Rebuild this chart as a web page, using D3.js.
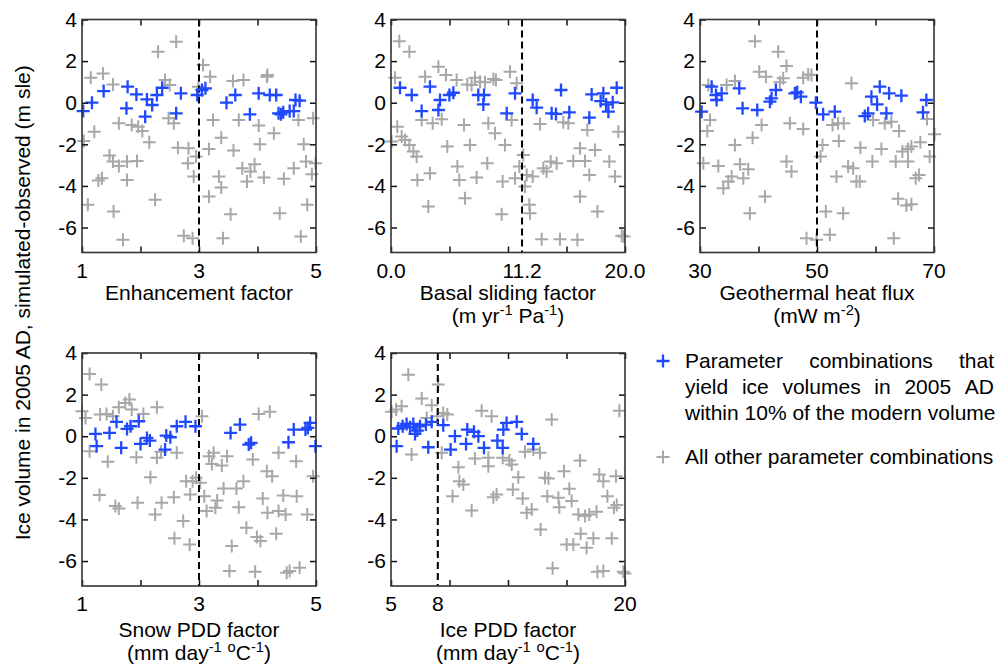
<!DOCTYPE html>
<html>
<head>
<meta charset="utf-8">
<script src="https://cdn.jsdelivr.net/npm/d3@7"></script>
<style>
  html, body { margin: 0; padding: 0; background: #fff; }
  svg { display: block; font-family: "Liberation Sans", Arial, sans-serif; }
</style>
</head>
<body>
<svg id="chart" width="1001" height="667"></svg>
<script>
// ---------------- DATA ----------------
const yDomain = [-7.2, 4];
const yTickValues = [-6, -4, -2, 0, 2, 4];

// Panel 1: Enhancement factor
const p1Domain = [1, 5];
const p1Ticks = [1, 2, 3, 4, 5];
const p1TickLabels = [[1, "1"], [3, "3"], [5, "5"]];
const p1Ref = 3;
const p1Grey = [[1.15,1.2],[1.36,1.41],[1.53,0.88],[1.03,-1.84],[1.21,-1.39],[1.10,-4.91],[1.28,-3.74],[1.34,-3.63],[1.47,-2.54],[1.53,-2.83],[1.63,-3.04],[1.54,-5.23],[1.70,-6.59],[1.63,-0.99],[1.77,-2.83],[1.77,-3.71],[1.85,-1.07],[1.94,-2.8],[1.96,-1.15],[2.03,-1.36],[2.15,-1.9],[2.25,-4.67],[2.30,2.45],[2.42,1.09],[2.50,0.85],[2.48,-0.75],[2.57,-0.99],[2.61,2.93],[2.64,-2.16],[2.82,-2.19],[2.81,-2.91],[2.74,-6.4],[2.89,-6.51],[2.91,-3.55],[2.95,-2.59],[2.99,0.77],[3.07,1.81],[3.19,1.25],[3.17,-2.22],[3.17,-4.51],[3.24,-0.83],[3.34,-3.55],[3.38,-1.68],[3.38,-4.08],[3.41,-6.51],[3.54,-5.36],[3.58,1.04],[3.59,-2.30],[3.68,-0.83],[3.74,-3.15],[3.76,1.09],[3.82,-3.79],[3.88,-3.31],[3.95,-2.96],[4.02,-1.10],[4.04,-2.0],[4.11,-3.6],[4.16,1.25],[4.17,1.33],[4.28,-1.47],[4.45,-3.66],[4.38,-5.31],[4.62,-3.15],[4.70,-0.83],[4.74,-6.43],[4.79,-2.0],[4.83,-2.83],[4.85,-4.91],[4.95,-0.75],[4.93,-3.44],[4.99,-2.91]];
const p1Blue = [[1.02,-0.40],[1.17,0],[1.37,0.56],[1.78,0.77],[1.93,0.4],[1.76,-0.27],[2.08,-0.67],[2.11,0.16],[2.20,-0.11],[2.28,0.37],[2.37,0.72],[2.61,-0.51],[2.69,0.45],[2.97,0.37],[3.05,0.61],[3.11,0.69],[3.47,0],[3.62,0.37],[3.87,-0.56],[4.02,0.45],[4.21,0.37],[4.32,0.37],[4.36,-0.51],[4.44,-0.46],[4.55,-0.40],[4.62,-0.40],[4.65,0.13],[4.40,-0.56],[4.72,0.10]];

// Panel 2: Basal sliding factor
const p2Domain = [0, 20];
const p2Ticks = [0, 5, 10, 15, 20];
const p2TickLabels = [[0, "0.0"], [11.2, "11.2"], [20, "20.0"]];
const p2Ref = 11.2;
const p2Grey = [[0.71,2.96],[1.57,2.45],[0.34,1.2],[0.06,-1.87],[0.54,-1.15],[0.91,-1.63],[1.20,-1.79],[1.57,-2.03],[1.91,-2.35],[2.19,-2.59],[2.25,-3.71],[2.62,-0.83],[2.91,1.25],[3.19,-4.99],[3.33,-3.39],[3.56,-0.99],[4.05,1.73],[4.33,-0.8],[4.70,1.33],[4.81,-2.11],[5.61,1.09],[5.67,-3.07],[5.84,-3.71],[6.24,-1.07],[6.32,-4.59],[6.52,0.88],[6.75,-2.03],[6.89,0.85],[7.18,1.2],[7.32,-3.6],[7.61,1.01],[8.03,0.98],[8.32,-0.99],[8.23,-2.91],[8.75,1.14],[8.97,1.09],[8.89,-1.47],[9.46,-5.36],[9.54,-3.79],[9.74,-2.03],[10.17,1.49],[10.31,-0.83],[10.60,-3.63],[10.74,0.93],[10.97,-3.07],[11.31,-2.51],[11.45,-4.03],[11.60,-3.47],[11.82,-4.91],[11.88,-5.31],[12.11,-3.55],[12.74,-1.02],[12.88,-6.56],[13.02,-3.15],[13.30,-3.31],[13.65,-2.83],[14.16,-2.91],[14.44,-6.56],[14.73,-0.94],[15.16,-0.99],[15.58,-2.8],[15.93,-6.59],[16.15,-4.51],[16.15,-2.19],[16.58,-2.8],[16.78,-1.31],[16.95,-3.47],[17.44,-2.27],[17.64,-5.23],[18.66,-2.83],[19.15,-3.55],[19.43,-1.39],[19.72,-6.4],[19.91,-6.43]];
const p2Blue = [[0.77,0.72],[1.77,0.37],[2.62,-0.40],[3.33,0.77],[4.05,-0.35],[4.19,0.13],[4.99,0.37],[5.33,0.48],[7.46,0.37],[7.95,0.37],[7.89,-0.08],[9.89,-0.51],[10.60,0.45],[12.11,0.13],[12.45,-0.24],[13.73,-0.51],[14.10,-0.54],[14.53,0.61],[15.24,-0.46],[16.95,-0.72],[17.15,0.4],[18.15,0.45],[17.92,0.08],[18.38,-0.08],[18.58,-0.43],[18.95,0.02],[19.29,0.72]];

// Panel 3: Geothermal heat flux
const p3Domain = [30, 70];
const p3Ticks = [30, 40, 50, 60, 70];
const p3TickLabels = [[30, "30"], [50, "50"], [70, "70"]];
const p3Ref = 50;
const p3Grey = [[39.39,2.96],[43.37,2.45],[40.13,1.49],[41.27,1.25],[44.79,1.76],[44.22,1.17],[43.66,0.98],[47.64,1.2],[48.49,1.36],[49.06,1.33],[55.89,0.93],[31.42,0.85],[34.55,0.85],[35.97,1.04],[31.71,-0.83],[31.25,-1.36],[30.57,-2.91],[33.13,-3.04],[33.98,-4.11],[34.84,-3.79],[35.41,-3.55],[35.97,-2.03],[36.83,-2.96],[37.40,-3.63],[38.25,-3.2],[38.53,-5.31],[38.99,-1.68],[40.53,-1.07],[41.10,-4.51],[44.79,-2.83],[45.64,-3.31],[45.36,-0.99],[47.64,-1.26],[48.21,-6.51],[49.91,-6.59],[50.94,-2.03],[50.60,-2.59],[51.51,-5.23],[52.19,-6.35],[52.65,-1.07],[53.61,-0.99],[54.58,-0.99],[53.73,-1.84],[53.33,-3.55],[54.47,-5.31],[55.32,-3.07],[56.17,-3.15],[56.74,-3.79],[57.31,-3.79],[57.42,-2.16],[59.47,-2.83],[59.59,-0.83],[61.01,-2.22],[61.58,-0.99],[62.72,-0.91],[63.46,-2.83],[63.12,-6.51],[63.86,-4.62],[64.03,-1.36],[64.59,-2.35],[65.56,-2.83],[65.28,-4.94],[66.13,-4.88],[65.56,-2.22],[66.13,-2.11],[66.87,-3.63],[67.44,-3.47],[67.67,-1.90],[68.81,-0.78],[69.26,-2.59],[70.1,-1.52]];
const p3Blue = [[30.28,-0.43],[31.99,0.77],[32.73,0.37],[32.84,0.13],[33.70,0.45],[36.71,0.69],[37.28,-0.27],[39.79,-0.35],[41.95,0.05],[42.23,0.21],[42.97,0.61],[46.22,0.45],[46.61,0.5],[47.24,0.29],[49.80,0],[51.05,-0.56],[53.04,-0.43],[58.17,-0.64],[58.73,-0.51],[59.30,0.29],[60.27,-0.08],[60.73,0.77],[61.86,-0.51],[62.32,0.45],[64.42,0.34],[68.12,-0.46],[68.69,0.13]];

// Panel 4: Snow PDD factor
const p4Domain = [1, 5];
const p4Ticks = [1, 2, 3, 4, 5];
const p4TickLabels = [[1, "1"], [3, "3"], [5, "5"]];
const p4Ref = 3;
const p4Grey = [[1.13,2.99],[1.33,2.48],[1.0,1.2],[1.06,0.88],[1.31,1.04],[1.42,1.07],[1.53,0.96],[1.13,-0.72],[1.44,-1.23],[1.30,-2.83],[1.57,-3.36],[1.63,-3.47],[1.63,1.39],[1.74,1.6],[1.81,1.76],[1.85,1.28],[1.93,-1.01],[1.95,-3.2],[2.05,1.07],[2.17,-1.97],[2.25,-3.76],[2.28,1.39],[2.28,-1.04],[2.35,-0.75],[2.36,-3.2],[2.57,-2.93],[2.58,-4.91],[2.62,-0.8],[2.73,-4.08],[2.78,-2.16],[2.84,-5.2],[2.85,-2.8],[2.89,-2.16],[2.95,-2.0],[3.05,0.96],[3.02,-2.24],[3.09,-2.88],[3.13,-3.6],[3.17,-0.96],[3.22,-1.33],[3.25,-0.8],[3.28,-3.44],[3.31,-3.09],[3.39,-1.41],[3.42,-2.51],[3.48,-0.96],[3.52,-6.48],[3.56,-5.28],[3.64,-2.51],[3.68,-3.41],[3.76,-2.16],[3.81,-4.4],[3.92,-1.12],[3.96,-6.51],[3.99,-4.85],[4.05,-5.04],[4.02,1.07],[4.09,-2.99],[4.21,1.17],[4.16,-1.68],[4.25,-1.92],[4.32,-4.69],[4.36,-0.8],[4.17,-3.68],[4.36,-3.6],[4.44,-2.85],[4.48,-3.76],[4.50,-6.56],[4.55,-6.48],[4.72,-6.32],[4.66,-1.2],[4.67,-2.88],[4.85,-3.76],[4.95,-1.92]];
const p4Blue = [[1.23,0.11],[1.25,-0.48],[1.47,0.16],[1.59,0.69],[1.67,-0.56],[1.77,0.35],[1.83,0.48],[1.97,0.72],[2.0,-0.37],[2.11,-0.08],[2.16,-0.21],[2.42,-0.64],[2.44,0.03],[2.51,-0.05],[2.62,0.48],[2.77,0.69],[2.94,0.48],[3.54,0.16],[3.70,0.56],[3.85,-0.4],[3.89,-0.32],[4.53,-0.29],[4.62,0.32],[4.82,0.32],[4.86,0.4],[4.90,0.64],[4.99,-0.48]];

// Panel 5: Ice PDD factor
const p5Domain = [5, 20];
const p5Ticks = [5, 8.75, 12.5, 16.25, 20];
const p5TickLabels = [[5, "5"], [8, "8"], [20, "20"]];
const p5Ref = 8;
const p5Grey = [[6.11,2.96],[5.04,1.17],[5.32,1.28],[5.68,1.44],[6.32,-0.88],[6.97,1.81],[7.29,0.88],[7.61,1.49],[8.03,2.48],[7.97,0.96],[8.35,1.12],[8.61,1.04],[8.25,-0.8],[8.95,-2.88],[9.32,-1.49],[9.38,-2.16],[9.64,-2.32],[10.17,-3.57],[10.38,-1.07],[10.81,1.23],[11.24,-1.44],[11.24,-1.04],[11.45,0.96],[11.56,-2.93],[11.77,-2.8],[12.16,-1.04],[12.59,-1.17],[12.74,-1.36],[12.81,-2.56],[13.16,-1.97],[13.44,-2.99],[13.59,-0.75],[13.70,-3.68],[14.02,-3.52],[14.12,-0.64],[14.55,-0.8],[14.59,-4.48],[14.87,-2.0],[15.09,-2.03],[15.02,-2.88],[15.30,0.8],[15.36,-6.35],[15.73,-2.96],[15.79,-3.41],[16.09,-1.68],[16.26,-5.2],[16.43,-2.53],[16.58,-3.12],[16.69,-5.2],[17.01,-3.76],[17.12,-1.17],[17.16,-4.69],[17.44,-3.84],[17.54,-5.36],[17.71,-3.76],[17.97,-4.91],[18.18,-3.63],[18.23,-6.51],[18.61,-6.48],[18.35,-1.84],[18.61,-2.16],[18.87,-2.88],[19.15,-4.91],[19.29,-3.44],[19.42,-1.92],[19.47,-3.31],[19.64,1.23],[19.89,-6.51],[20.0,-6.6]];
const p5Blue = [[5.36,-0.48],[5.47,0.37],[5.75,0.48],[6.0,0.59],[6.22,0.43],[6.43,0.59],[6.54,0.11],[6.69,0.27],[6.86,0.48],[7.24,0.56],[7.39,-0.53],[7.61,0.69],[8.35,0.53],[8.82,-0.64],[9.10,0],[9.81,-0.37],[9.89,0.32],[10.32,0.21],[10.60,0],[10.96,-0.56],[11.82,-0.21],[12.16,-0.56],[12.20,0.32],[12.41,0.64],[13.06,0.69],[13.38,0.11],[14.12,-0.37]];

// Axis titles ([text, superscript?] runs)
const p1Title = [[["Enhancement factor", false]]];
const p2Title = [[["Basal sliding factor", false]], [["(m yr", false], ["-1", true], [" Pa", false], ["-1", true], [")", false]]];
const p3Title = [[["Geothermal heat flux", false]], [["(mW m", false], ["-2", true], [")", false]]];
const p4Title = [[["Snow PDD factor", false]], [["(mm day", false], ["-1", true], [" ", false], ["o", true], ["C", false], ["-1", true], [")", false]]];
const p5Title = [[["Ice PDD factor", false]], [["(mm day", false], ["-1", true], [" ", false], ["o", true], ["C", false], ["-1", true], [")", false]]];

const yTitle = "Ice volume in 2005 AD, simulated-observed (m sle)";
const legendBlueWords = [["Parameter", "combinations", "that"], ["yield", "ice", "volumes", "in", "2005", "AD"], ["within 10% of the modern volume"]];
const legendGrey = "All other parameter combinations";

// ---------------- LAYOUT ----------------
const BLUE = "#1f48ff";
const GREY = "#a8a8a8";
const FS = 21;
const W = 234, H = 233;
const colX = [82, 391, 700];
const rowY = [19.5, 353];
const titleOff = [47, 51];

const panels = [
  {domain: p1Domain, ticks: p1Ticks, labels: p1TickLabels, ref: p1Ref, grey: p1Grey, blue: p1Blue, title: p1Title, c: 0, r: 0},
  {domain: p2Domain, ticks: p2Ticks, labels: p2TickLabels, ref: p2Ref, grey: p2Grey, blue: p2Blue, title: p2Title, c: 1, r: 0},
  {domain: p3Domain, ticks: p3Ticks, labels: p3TickLabels, ref: p3Ref, grey: p3Grey, blue: p3Blue, title: p3Title, c: 2, r: 0},
  {domain: p4Domain, ticks: p4Ticks, labels: p4TickLabels, ref: p4Ref, grey: p4Grey, blue: p4Blue, title: p4Title, c: 0, r: 1},
  {domain: p5Domain, ticks: p5Ticks, labels: p5TickLabels, ref: p5Ref, grey: p5Grey, blue: p5Blue, title: p5Title, c: 1, r: 1}
];

const svg = d3.select("#chart");
const plusPath = s => `M${-s},0H${s}M0,${-s}V${s}`;

panels.forEach(p => {
  const g = svg.append("g").attr("transform", `translate(${colX[p.c]},${rowY[p.r]})`);
  const x = d3.scaleLinear().domain(p.domain).range([0, W]);
  const y = d3.scaleLinear().domain(yDomain).range([H, 0]);

  // points: grey first, then blue
  g.append("g").selectAll("path").data(p.grey).join("path")
    .attr("d", plusPath(6.5))
    .attr("transform", d => `translate(${x(d[0])},${y(d[1])})`)
    .attr("stroke", GREY).attr("stroke-width", 2).attr("fill", "none");

  // reference dashed line
  g.append("line")
    .attr("x1", x(p.ref)).attr("x2", x(p.ref)).attr("y1", 0).attr("y2", H)
    .attr("stroke", "#000").attr("stroke-width", 2).attr("stroke-dasharray", "7,4");

  g.append("g").selectAll("path").data(p.blue).join("path")
    .attr("d", plusPath(6.5))
    .attr("transform", d => `translate(${x(d[0])},${y(d[1])})`)
    .attr("stroke", BLUE).attr("stroke-width", 2.3).attr("fill", "none");

  // axes with inward ticks on all four sides
  const tk = 6;
  const axB = d3.axisBottom(x).tickValues(p.ticks).tickSize(-tk).tickFormat("");
  const axT = d3.axisTop(x).tickValues(p.ticks).tickSize(-tk).tickFormat("");
  const axL = d3.axisLeft(y).tickValues(yTickValues).tickSize(-tk).tickPadding(5).tickFormat(d3.format("d"));
  const axR = d3.axisRight(y).tickValues(yTickValues).tickSize(-tk).tickFormat("");
  const styleAx = sel => {
    sel.select(".domain").remove();
    sel.selectAll(".tick line").attr("stroke", "#111").attr("stroke-width", 1.5);
    sel.selectAll("text").attr("font-size", FS).attr("fill", "#000")
      .attr("font-family", "'Liberation Sans', Arial, sans-serif");
  };
  g.append("g").attr("transform", `translate(0,${H})`).call(axB).call(styleAx);
  g.append("g").call(axT).call(styleAx);
  const yl = g.append("g").call(axL).call(styleAx);
  yl.selectAll("text").text(d => d3.format("d")(d).replace("−", "-"));
  g.append("g").attr("transform", `translate(${W},0)`).call(axR).call(styleAx);

  // x tick labels
  g.append("g").selectAll("text").data(p.labels).join("text")
    .attr("x", d => x(d[0])).attr("y", H + 25)
    .attr("text-anchor", "middle").attr("font-size", FS)
    .text(d => d[1]);

  // frame
  g.append("rect").attr("width", W).attr("height", H)
    .attr("fill", "none").attr("stroke", "#333").attr("stroke-width", 1.6);

  // title
  p.title.forEach((line, i) => {
    const t = g.append("text").attr("x", W / 2).attr("y", H + titleOff[p.r] + i * 23)
      .attr("text-anchor", "middle").attr("font-size", FS);
    let shift = 0;
    line.forEach(run => {
      const ts = t.append("tspan").text(run[0]);
      if (run[1]) {
        ts.attr("font-size", FS * 0.7).attr("dy", shift === 0 ? -8 : 0);
        shift = -8;
      } else {
        ts.attr("dy", shift !== 0 ? 8 : 0);
        shift = 0;
      }
    });
  });
});

// y title
svg.append("text")
  .attr("transform", `translate(22,${(rowY[0] + rowY[1] + H) / 2}) rotate(-90)`)
  .attr("text-anchor", "middle").attr("dominant-baseline", "central")
  .attr("font-size", FS).text(yTitle);

// legend
const lg = svg.append("g");
const lx0 = 685, lx1 = 994;
const lineYs = [368, 394, 420];
lg.append("path").attr("d", plusPath(6.5)).attr("transform", `translate(663,${lineYs[0] - 7})`)
  .attr("stroke", BLUE).attr("stroke-width", 2.3).attr("fill", "none");
legendBlueWords.forEach((words, i) => {
  if (words.length === 1) {
    lg.append("text").attr("x", lx0).attr("y", lineYs[i]).attr("font-size", FS).text(words[0]);
    return;
  }
  const nodes = words.map(w => lg.append("text").attr("y", lineYs[i]).attr("font-size", FS).text(w));
  const widths = nodes.map(n => n.node().getComputedTextLength());
  const gap = (lx1 - lx0 - d3.sum(widths)) / (words.length - 1);
  let cx = lx0;
  nodes.forEach((n, j) => { n.attr("x", cx); cx += widths[j] + gap; });
});
lg.append("path").attr("d", plusPath(6.5)).attr("transform", `translate(663,457)`)
  .attr("stroke", GREY).attr("stroke-width", 2).attr("fill", "none");
lg.append("text").attr("x", lx0).attr("y", 464).attr("font-size", FS).text(legendGrey);
</script>
</body>
</html>
